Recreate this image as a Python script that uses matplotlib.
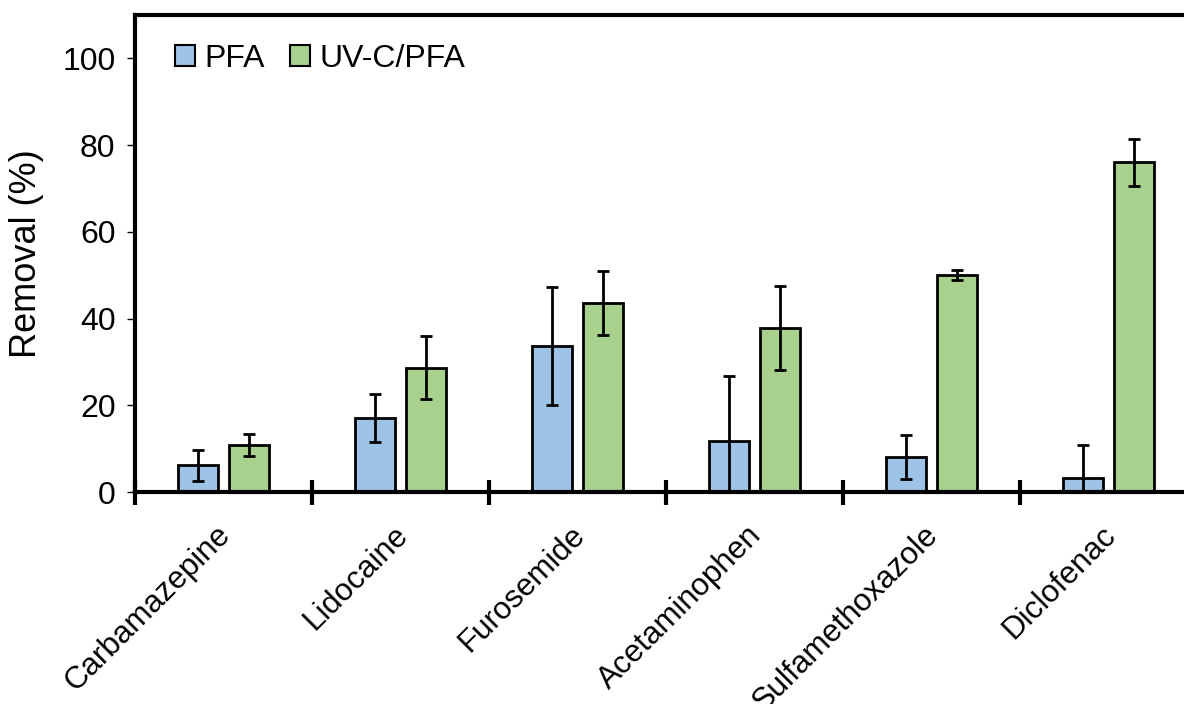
import matplotlib
matplotlib.use("Agg")
import matplotlib.pyplot as plt
import matplotlib.transforms as mtransforms
import numpy as np

categories = ["Carbamazepine", "Lidocaine", "Furosemide", "Acetaminophen",
              "Sulfamethoxazole", "Diclofenac"]
pfa = [6.2, 17.0, 33.6, 11.8, 8.1, 3.2]
pfa_err = [3.6, 5.5, 13.6, 15.0, 5.1, 7.7]
uvc = [10.8, 28.7, 43.6, 37.8, 50.0, 76.0]
uvc_err = [2.5, 7.2, 7.3, 9.6, 1.1, 5.5]
yticks = [0, 20, 40, 60, 80, 100]

plt.rcParams['font.family'] = ['Liberation Sans', 'DejaVu Sans']

fig = plt.figure(figsize=(11.84, 7.04), dpi=100)
ax = fig.add_axes([135/1184, 1-492/704, (1197-135)/1184, (492-15)/704])

x = np.arange(len(categories))
w = 0.226
off = 0.143
ekw = dict(ecolor='black', elinewidth=2, capsize=4, capthick=2)
ax.bar(x - off, pfa, w, yerr=pfa_err, color='#9dc3e6', edgecolor='black',
       linewidth=2, label='PFA', error_kw=ekw, zorder=2)
ax.bar(x + off, uvc, w, yerr=uvc_err, color='#a9d18e', edgecolor='black',
       linewidth=2, label='UV-C/PFA', error_kw=ekw, zorder=2)

ax.set_xlim(-0.5, len(categories) - 0.5)
ax.set_ylim(0, 110)
ax.set_yticks(yticks)
ax.tick_params(axis='y', labelsize=23, length=6, width=1, direction='out', pad=8)
ax.set_xticks(np.arange(len(categories) + 1) - 0.5)
ax.set_xticklabels([])
ax.tick_params(axis='x', which='major', direction='inout', length=18, width=3)
ax.set_xticks(x, minor=True)
ax.set_xticklabels(categories, minor=True, rotation=45, ha='right',
                   rotation_mode='anchor', fontsize=22.5)
ax.tick_params(axis='x', which='minor', length=0, pad=20)
shift = mtransforms.ScaledTranslation(-8/100, 0, fig.dpi_scale_trans)
for lab in ax.get_xticklabels(minor=True):
    lab.set_transform(lab.get_transform() + shift)

for s in ['top', 'left', 'bottom']:
    ax.spines[s].set_linewidth(3)
ax.spines['right'].set_visible(False)

ax.set_ylabel('Removal (%)', fontsize=26)
ax.yaxis.set_label_coords(-0.086, 0.5)

leg = ax.legend(loc='upper left', bbox_to_anchor=(0.038, 0.94), ncol=2,
                frameon=False, fontsize=23, handlelength=0.62, handleheight=0.62,
                handletextpad=0.3, columnspacing=0.78, borderpad=0,
                borderaxespad=0)
for p in leg.get_patches():
    p.set_linewidth(1.5)

fig.savefig('out.png', dpi=100)
